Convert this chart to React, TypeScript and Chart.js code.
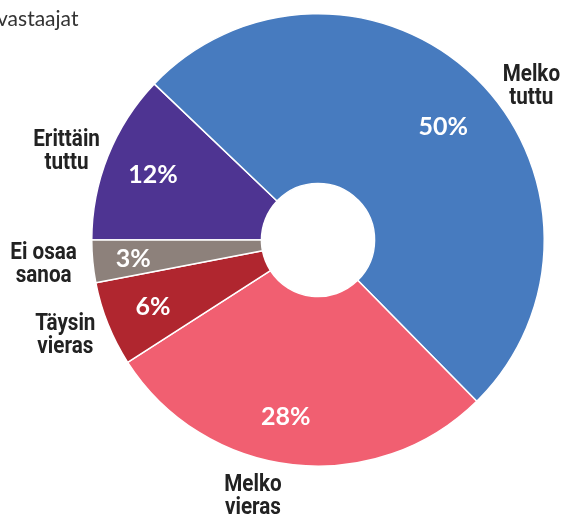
import React, { useEffect, useRef } from "react";
import { Chart, registerables } from "chart.js";

Chart.register(...registerables);

const categories: string[][] = [
  ["Erittäin", "tuttu"],
  ["Melko", "tuttu"],
  ["Melko", "vieras"],
  ["Täysin", "vieras"],
  ["Ei osaa", "sanoa"],
];
const values: number[] = [12, 50, 28, 6, 3];
const percentLabels: string[] = ["12%", "50%", "28%", "6%", "3%"];
const colors: string[] = ["#4e3492", "#477bbf", "#f15f71", "#b0262f", "#8d817b"];
const titleText = "vastaajat";

// label placement tweaks (styling, not data)
const labelAngleNudge = [-2, 9.3, 8, 1.6, 0.9];
const labelRadiusGap = [41, 38, 36, 43, 49];
const pctAngleNudge = [0, 3, 4, 0, 0];
const pctRadius = [0.785, 0.75, 0.79, 0.785, 0.82];

const labelPlugin = {
  id: "sliceLabels",
  afterDatasetsDraw(chart: any) {
    const ctx = chart.ctx;
    const meta = chart.getDatasetMeta(0);
    ctx.save();
    meta.data.forEach((arc: any, i: number) => {
      const { x, y, startAngle, endAngle, outerRadius } = arc.getProps(
        ["x", "y", "startAngle", "endAngle", "outerRadius"],
        true
      );
      const mid = (startAngle + endAngle) / 2;
      const pa = mid + (pctAngleNudge[i] * Math.PI) / 180;
      const rIn = outerRadius * pctRadius[i];
      ctx.fillStyle = "#ffffff";
      ctx.font = "bold 25px Lato, 'Open Sans', sans-serif";
      ctx.textAlign = "center";
      ctx.textBaseline = "middle";
      ctx.fillText(percentLabels[i], x + Math.cos(pa) * rIn, y + Math.sin(pa) * rIn + 1);

      const a = mid + (labelAngleNudge[i] * Math.PI) / 180;
      const rOut = outerRadius + labelRadiusGap[i];
      const lx = x + Math.cos(a) * rOut;
      const ly = y + Math.sin(a) * rOut;
      ctx.fillStyle = "#222222";
      ctx.font = "bold 24px Roboto, 'Liberation Sans', sans-serif";
      ctx.textBaseline = "alphabetic";
      const lines = categories[i];
      const lh = 23;
      const capH = 17;
      const sx = 0.86;
      lines.forEach((t, k) => {
        ctx.save();
        ctx.translate(lx, ly + (k - (lines.length - 1) / 2) * lh + capH / 2);
        ctx.scale(sx, 1);
        ctx.fillText(t, 0, 0);
        ctx.restore();
      });
    });
    ctx.fillStyle = "#333333";
    ctx.font = "21px Lato, 'Open Sans', sans-serif";
    ctx.textAlign = "left";
    ctx.textBaseline = "alphabetic";
    ctx.fillText(titleText, -3, 26);
    ctx.restore();
  },
};

export default function App() {
  const ref = useRef<HTMLCanvasElement>(null);
  useEffect(() => {
    const chart = new Chart(ref.current as HTMLCanvasElement, {
      type: "doughnut",
      data: {
        labels: categories.map((c) => c.join(" ")),
        datasets: [
          {
            data: values,
            backgroundColor: colors,
            borderColor: "#ffffff",
            borderWidth: 1.5,
          },
        ],
      },
      options: {
        responsive: false,
        animation: false,
        rotation: -90,
        cutout: "25%",
        layout: { padding: { left: 91, right: 18, top: 13, bottom: 51 } },
        plugins: { legend: { display: false }, tooltip: { enabled: false } },
      },
      plugins: [labelPlugin],
    });
    return () => chart.destroy();
  }, []);
  return (
    <div style={{ position: "fixed", left: 0, top: 0, width: 563, height: 518, background: "#fff" }}>
      <canvas ref={ref} width={563} height={518} />
    </div>
  );
}
